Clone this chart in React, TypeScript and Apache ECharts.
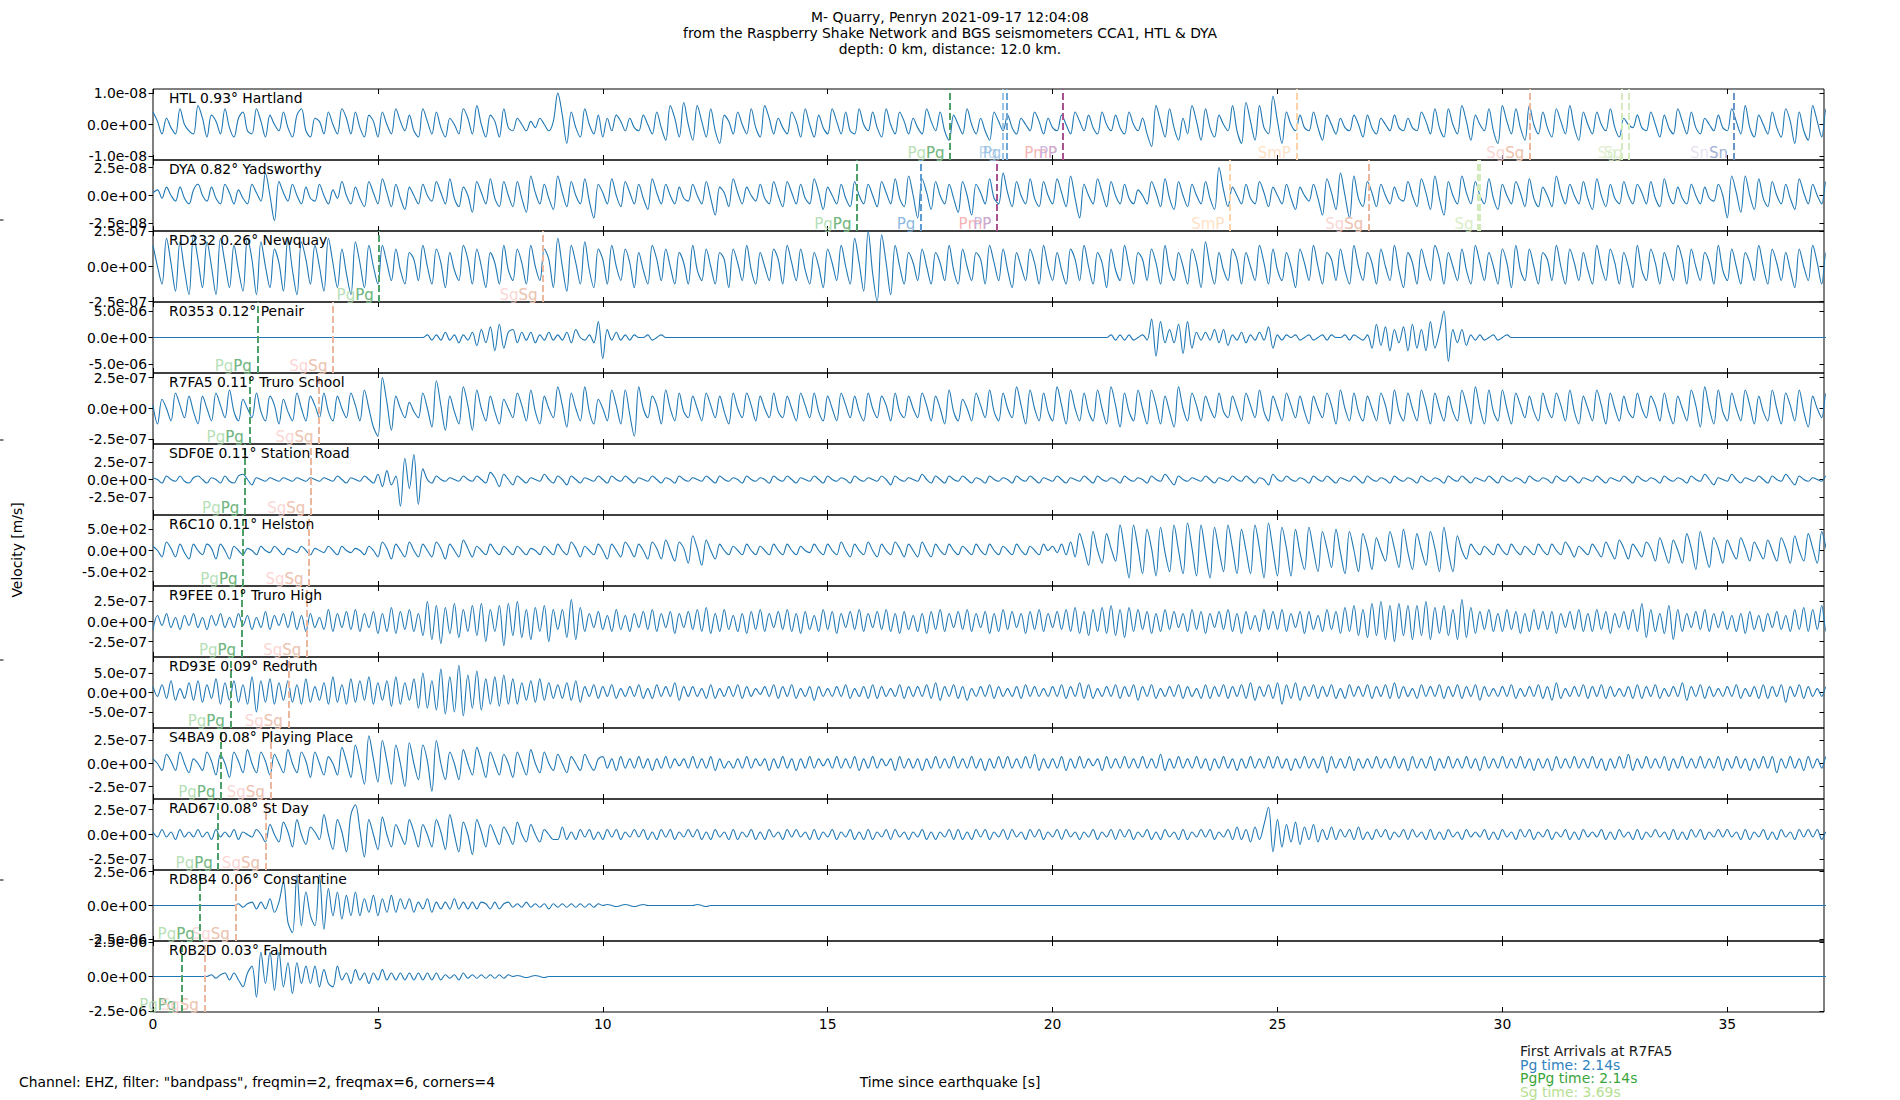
import React, { useEffect, useRef } from 'react';
import * as echarts from 'echarts';

const FONT = '"DejaVu Sans", Verdana, sans-serif';
const DT = 0.1;
const X_MAX = 37.15;
const X_TICKS = [0, 5, 10, 15, 20, 25, 30, 35];
const Y_TICKS = [-10, 0, 10];

const TITLE_LINES = [
  'M- Quarry, Penryn 2021-09-17 12:04:08',
  'from the Raspberry Shake Network and BGS seismometers CCA1, HTL & DYA',
  'depth: 0 km, distance: 12.0 km.',
];

const STATIONS = [
  'HTL 0.93° Hartland', 'DYA 0.82° Yadsworthy', 'RD232 0.26° Newquay', 'R0353 0.12° Penair',
  'R7FA5 0.11° Truro School', 'SDF0E 0.11° Station Road', 'R6C10 0.11° Helston', 'R9FEE 0.1° Truro High',
  'RD93E 0.09° Redruth', 'S4BA9 0.08° Playing Place', 'RAD67 0.08° St Day', 'RD8B4 0.06° Constantine',
  'R0B2D 0.03° Falmouth',
];
const Y_TOP_LABELS = ['1.0e-08', '2.5e-08', '2.5e-07', '5.0e-06', '2.5e-07', '2.5e-07', '5.0e+02', '2.5e-07', '5.0e-07', '2.5e-07', '2.5e-07', '2.5e-06', '2.5e-06'];
const Y_BOTTOM_LABELS = ['-1.0e-08', '-2.5e-08', '-2.5e-07', '-5.0e-06', '-2.5e-07', '-2.5e-07', '-5.0e+02', '-2.5e-07', '-5.0e-07', '-2.5e-07', '-2.5e-07', '-2.5e-06', '-2.5e-06'];
// axis half-range, in units where the labelled tick = 10
const Y_RANGE = [11.3, 12.7, 10.1, 13.4, 11.5, 20, 16.8, 17.7, 18.2, 15.4, 14.3, 10.5, 10.3];

// traces sampled every 0.1 s, in units of (labelled tick / 10)
const TR_HTL = [
4,1,-3,2,-1,-3,5,0,-2,-3, 6,2,-4,3,1,-3,5,-1,-4,2, 4,-2,-3,5,1,-4,3,0,-2,4, -1,-4,3,5,-2,-4,2,1,-3,4,
0,-3,5,2,-3,4,-1,-4,3,1, -4,4,0,-3,5,1,-2,3,-2,-4, 5,1,-3,4,-1,-4,2,0,-3,5, 2,-3,6,0,-4,3,1,-4,5,-1,
-2,2,0,-2,1,-1,2,0,-2,1, 10,3,-6,4,-1,-4,5,0,-3,3, -4,2,-2,3,1,-2,2,-1,-2,3, 0,-3,4,-1,-5,6,2,-4,7,0,
-5,6,1,-4,5,-2,-6,3,1,-3, 4,0,-3,5,-1,-4,6,2,-3,2, -1,-3,4,1,-4,5,0,-4,3,-1, -3,5,1,-3,4,-2,-3,5,0,-2,
4,-1,-4,5,0,-3,4,1,-3,2, -1,-3,5,1,-2,4,-2,-5,3,0, -3,5,0,-3,2,-2,-5,4,1,-2, 3,-1,-3,2,0,-2,4,1,-3,2,
-1,-2,3,0,-3,4,1,-2,3,-1, -3,4,0,-2,3,-1,-3,4,0,-2, 2,-3,-7,6,1,-4,5,-1,-5,2, -3,6,1,-5,5,-1,-4,3,0,-2,
6,-2,-6,7,1,-5,6,-1,-3,9, 1,-6,4,0,-2,3,-1,-2,4,-1, -5,3,0,-3,2,-1,-2,3,0,-4, 3,-1,-3,2,0,-2,3,-1,-2,2,
-1,-2,4,1,-3,5,-1,-4,5,0, -3,6,1,-5,3,0,-2,5,-2,-6, 6,1,-3,5,-1,-5,6,0,-3,4, -1,-4,5,1,-3,6,-1,-5,4,0,
-3,4,0,-2,5,-1,-4,2,0,-1, 3,-1,-2,4,0,-4,3,-1,-3,5, 1,-3,4,-1,-3,2,0,-2,3,-1, -2,5,1,-3,6,-1,-4,3,0,-3,
4,-1,-4,5,1,-6,4,-2,-5,6, 1,-4,5,0,-3,4,
];
const TR_DYA = [
1,2,-1,3,0,-2,3,-1,-3,2, 4,0,-2,3,-1,-3,4,1,-3,2, -1,-3,4,1,-2,8,0,-9,5,1, -2,4,0,-3,3,-1,-2,4,0,-3,
2,-1,5,0,-3,3,-1,-4,5,1, -3,6,1,-4,4,-1,-5,3,0,-3, 4,0,-2,5,1,-3,6,-1,-4,3, 0,-6,5,1,-3,6,-1,-4,5,0,
-4,5,-1,-6,7,1,-3,4,-1,-5, 7,1,-4,5,0,-3,6,-2,-8,4, 1,-3,6,0,-4,5,1,-3,4,-1, -5,6,1,-3,4,0,-3,3,-1,-2,
4,0,-3,5,-1,-7,3,1,-4,6, 1,-3,3,0,-2,4,-1,-3,5,0, -4,5,1,-3,4,-1,-3,6,1,-5, 3,0,-3,4,-1,-4,5,0,-3,4,
0,-4,5,1,-3,6,-1,-4,7,0, -8,6,1,-5,5,0,-3,4,-1,-6, 5,0,-7,4,1,-3,6,-1,-3,8, 1,-4,5,0,-3,6,-1,-4,5,0,
-3,6,1,-4,7,-1,-8,4,0,-3, 6,1,-4,5,0,-3,4,-1,-3,2, 0,-3,5,1,-4,6,-1,-5,5,0, -4,4,0,-3,5,-1,-5,10,2,-4,
3,0,-3,4,-1,-3,5,1,-4,3, 0,-3,4,-1,-5,3,0,-2,4,-1, -7,6,1,-5,8,0,-8,7,-1,-4, 5,1,-4,4,0,-3,3,-1,-2,5,
0,-4,6,1,-5,7,-1,-7,5,0, -3,7,1,-3,5,0,-3,6,-1,-5, 4,0,-3,5,1,-4,6,-1,-4,3, 0,-4,7,1,-3,4,0,-3,5,-1,
-5,6,0,-4,4,-1,-3,5,0,-3, 4,1,-3,5,-1,-4,6,0,-3,3, -1,-3,4,0,-3,3,-1,-2,4,0, -8,7,1,-6,7,0,-5,6,-1,-4,
5,0,-3,4,-1,-5,6,1,-3,4, 0,-3,5,1,-4,3,
];
const TR_RD232 = [
6,0,-5,8,1,-7,7,-1,-8,9, 2,-6,7,0,-8,8,1,-6,6,-1, -7,8,2,-8,7,0,-6,5,1,-7, 8,-1,-8,7,2,-5,6,0,-7,8, 1,-6,5,-2,-8,7,1,-6,6,0,
-5,6,1,-4,5,-1,-5,4,2,-4, 6,0,-5,5,1,-6,4,-1,-4,6, 2,-5,5,0,-6,4,1,-5,6,-1, -4,5,1,-5,6,0,-4,5,2,-6,
8,0,-7,6,1,-5,7,-1,-6,5, 2,-5,6,0,-4,5,1,-6,4,-1, -5,6,2,-4,5,0,-5,4,1,-5, 6,-1,-4,5,0,-5,4,2,-6,5,
1,-4,6,-1,-5,4,0,-4,5,2, -5,6,1,-4,5,-1,-5,4,0,-6, 5,1,-4,6,0,-5,8,1,-7,10, -2,-10,9,1,-8,6,0,-5,4,1,
-4,5,0,-5,4,1,-4,6,-1,-5, 5,0,-4,4,2,-5,6,1,-4,5, -1,-6,4,0,-4,5,1,-5,6,0, -4,4,-1,-5,5,2,-4,6,0,-5,
4,1,-6,5,-1,-4,6,0,-5,4, 2,-4,5,1,-5,6,-1,-4,4,0, -5,5,1,-6,7,0,-5,4,-1,-4, 5,2,-5,4,0,-4,6,1,-5,5,
-1,-4,4,0,-6,5,1,-4,6,0, -5,4,2,-4,5,-1,-5,6,0,-4, 4,1,-5,5,0,-4,6,-1,-6,4, 1,-5,5,0,-4,6,2,-5,4,0,
-4,5,-1,-5,6,1,-4,4,0,-5, 5,1,-6,6,-1,-4,5,0,-5,4, 2,-4,6,0,-5,5,1,-4,4,-1, -5,6,0,-4,5,1,-5,4,0,-6,
6,-1,-4,5,1,-5,4,0,-4,6, 2,-5,5,0,-4,4,1,-5,6,-1, -4,5,0,-5,4,1,
-4,6,0,-5,5,1,-4,4,-1,-6, 5,0,-4,6,1,-5,4,0,-5,5, 2,-4,6,-1,-5,4,0,-4,5,1, -6,5,0,-4,4,1,-5,6,0,-4,
];
const TR_R0353 = [
0,0,0,0,0,0,0,0,0,0, 0,0,0,0,0,0,0,0,0,0, 0,0,0,0,0,0,0,0,0,0, 0,0,0,0,0,0,0,0,0,0, 0,0,0,0,0,0,0,0,0,0,
0,0,0,0,0,0,0,0,0,0, 0,1,-1,1,-1,2,-1,1,-2,1, -1,2,-3,3,-2,4,-5,5,-4,2, 3,-2,2,-1,2,-2,1,-1,2,-1,
1,-1,2,-2,3,0,-1,1,-2,6, -8,3,-1,2,-1,1,-1,1,0,0, 1,-1,0,1,0,0,0,0,0,0,
0,0,0,0,0,0,0,0,0,0, 0,0,0,0,0,0,0,0,0,0, 0,0,0,0,0,0,0,0,0,0, 0,0,0,0,0,0,0,0,0,0, 0,0,0,0,0,0,0,0,0,0,
0,0,0,0,0,0,0,0,0,0, 0,0,0,0,0,0,0,0,0,0, 0,0,0,0,0,0,0,0,0,0, 0,0,0,0,0,0,0,0,0,0,
0,0,0,1,-1,1,-1,1,-1,0, 1,-1,7,-7,6,-2,3,-2,5,-6, 6,-4,2,-1,2,-1,3,-2,3,-3, 1,-1,2,-2,1,-1,2,-1,4,-4,
1,-1,1,0,1,-1,0,1,-1,0, 1,-1,1,0,0,1,-1,1,0,-1, 1,-4,5,-3,4,-5,3,-2,4,-5, 5,-4,3,-5,6,-4,2,10,-9,3,
-2,3,-3,1,-1,1,-1,0,1,-1, 0,1,0,0,0,0,0,0,0,0,
0,0,0,0,0,0,0,0,0,0, 0,0,0,0,0,0,0,0,0,0, 0,0,0,0,0,0,0,0,0,0, 0,0,0,0,0,0,0,0,0,0, 0,0,0,0,0,0,0,0,0,0,
0,0,0,0,0,0,0,0,0,0, 0,0,0,0,0,0,0,0,0,0,
];
const TR_R7FA5 = [
1,-5,3,0,-4,5,1,-3,4,-1, -5,4,0,-4,5,1,-3,6,-1,-4, 3,0,-3,5,-1,-4,4,1,-5,3, -1,-4,5,0,-4,4,1,-3,5,-1,
-4,4,0,-3,5,1,-4,6,0,-6, -9,10,2,-7,4,0,-3,2,-1,-3, 5,0,-6,9,1,-7,4,-1,-5,7, 1,-7,6,0,-4,4,-1,-5,3,0,
-3,5,1,-4,6,-1,-5,4,0,-3, 7,1,-6,5,0,-4,7,-1,-5,3, 0,-4,6,1,-5,6,-2,-9,7,0, -3,4,1,-5,6,0,-4,5,-1,-3,
4,0,-4,5,1,-3,4,-1,-5,5, 0,-3,5,1,-4,4,0,-3,5,-1, -3,4,0,-4,5,1,-3,5,-1,-4, 4,0,-4,5,1,-3,4,-1,-4,5,
0,-3,4,1,-4,5,-1,-3,4,0, -3,5,1,-4,4,0,-5,6,-1,-4, 3,0,-4,5,1,-3,6,-1,-4,5, 0,-3,7,1,-5,6,0,-4,5,-1,
-4,7,1,-5,6,0,-4,5,-1,-4, 6,0,-5,7,1,-6,5,-1,-4,6, 0,-5,6,1,-5,4,-1,-6,7,0, -4,5,1,-4,4,0,-3,5,-1,-3,
4,0,-4,5,1,-3,6,-1,-4,4, 0,-4,5,1,-3,4,-1,-5,4,0, -3,5,1,-5,6,0,-4,5,-1,-4, 4,0,-4,5,1,-5,6,-1,-4,5,
0,-4,6,1,-5,5,0,-4,4,-1, -4,6,1,-5,7,0,-5,6,-1,-4, 6,0,-5,5,1,-3,4,-1,-4,5, 0,-3,5,1,-4,6,-1,-5,4,0,
-4,6,1,-5,5,0,-4,4,-1,-3, 5,0,-3,4,1,-4,5,-1,-5,4, 0,-4,6,1,-6,7,0,-5,6,-1, -4,5,0,-4,6,1,-5,4,-1,-4,
6,0,-5,5,1,-4,6,-1,-6,4, 0,-3,5,1,-4,3,
];
const TR_SDF0E = [
1,0,-2,2,0,-1,2,-1,-2,1, 2,0,-2,1,0,-2,2,-1,-2,2, 3,0,-3,1,0,-1,1,0,-1,1, 0,-1,1,0,-1,1,0,-1,1,0,
-1,2,0,-2,1,0,-1,2,0,-2, 3,-4,5,-3,2,-15,12,-5,14,-14, 6,0,-2,2,0,-1,1,0,-1,2, 0,-1,2,0,-2,4,1,-4,3,0,
-3,2,0,-2,1,0,-1,3,0,-2, 2,0,-3,2,0,-2,1,0,-1,2, 0,-2,2,0,-1,2,0,-2,1,0, -1,2,0,-2,1,0,-2,2,0,-1,
1,0,-1,2,0,-2,2,0,-1,1, 0,-2,2,0,-1,1,0,-2,2,0, -1,2,0,-2,1,0,-1,2,0,-2, 2,0,-1,1,0,-2,2,0,-1,1,
0,-1,2,0,-3,2,0,-1,1,0, -1,3,0,-2,2,0,-2,2,0,-1, 2,0,-2,1,0,-2,2,0,-1,1, 0,-2,2,0,-1,2,0,-2,1,0,
-1,2,0,-2,1,0,-1,2,0,-2, 2,0,-1,1,0,-2,2,0,-1,1, 0,-2,2,0,-1,3,0,-3,2,0, -1,1,0,-1,2,0,-2,1,0,-1,
2,0,-1,2,0,-2,1,0,-3,3, 0,-1,2,0,-1,1,0,-2,2,0, -1,2,0,-2,1,0,-1,2,0,-2, 2,0,-1,1,0,-2,2,0,-1,1,
0,-2,2,0,-1,1,0,-2,2,0, -1,2,0,-2,1,0,-1,2,0,-2, 2,0,-1,1,0,-2,2,0,-1,1, 0,-2,2,0,-1,2,0,-2,1,0,
-1,2,0,-2,1,0,-1,2,0,-2, 2,0,-1,1,0,-2,2,0,-1,1, 0,-2,2,0,-1,3,0,-3,1,0, -1,3,0,-2,1,0,-1,2,0,-2,
2,0,-1,3,0,-3,2,0,-1,1, 0,-1,2,0,-1,1,
];
const TR_R6C10 = [
2,0,-3,4,1,-3,3,-1,-4,3, 0,-2,3,1,-4,3,0,-4,2,0, -2,1,0,-2,2,0,-1,2,0,-2, 1,0,-1,2,0,-2,1,0,-1,2,
0,-2,2,0,-1,1,0,-2,2,0, -3,4,1,-4,3,0,-3,4,0,-3, 3,0,-3,4,1,-4,3,0,-3,5, 1,-3,2,0,-2,3,0,-2,2,0,
-2,2,0,-2,1,0,-2,2,0,-2, 3,0,-2,4,1,-3,2,0,-2,3, 0,-4,3,0,-3,4,1,-3,3,0, -4,4,1,-4,5,0,-5,4,1,-6,
7,1,-7,5,0,-4,3,0,-2,2, 0,-2,3,0,-2,2,0,-2,3,0, -2,3,0,-2,2,0,-1,3,0,-2, 3,0,-2,4,0,-3,3,0,-2,4,
0,-3,3,0,-2,4,1,-3,3,0, -3,4,0,-3,3,0,-2,3,0,-2, 2,0,-2,3,0,-2,3,0,-2,2, 0,-2,3,0,-2,2,0,-2,3,0,
2,-1,3,-2,4,-3,8,1,-7,9, 0,-6,8,1,-5,12,0,-13,12,1, -11,10,1,-12,11,-1,-10,12,0,-11, 13,1,-12,12,-1,-13,11,0,-10,12,
1,-11,10,0,-11,12,1,-13,13,0, -12,11,1,-12,10,-1,-9,11,0,-10, 9,1,-8,10,-1,-11,9,0,-10,8, 1,-9,6,0,-5,9,1,-8,10,-1,
-9,8,0,-7,9,1,-10,11,-1,-10, 7,0,-4,3,0,-2,2,0,-2,3, 0,-2,3,0,-2,2,0,-2,3,0, -2,3,0,-2,4,1,-3,2,0,-2,
3,0,-3,4,0,-4,5,1,-4,3, 0,-3,4,1,-5,6,0,-6,5,0, -6,8,1,-9,9,0,-8,6,1,-6, 5,0,-4,6,1,-5,4,0,-4,5,
0,-5,6,1,-6,7,0,-5,8,1, -6,9,1,-5,7,0,
];
const TR_R9FEE = [
-4,3,-2,4,-3,2,-4,3,-2,4, -3,2,-4,3,-2,4,-3,2,-3,4, -2,3,-4,2,-3,5,-4,3,-2,4, -3,5,-4,3,-5,4,-3,2,-4,6,
-5,4,-3,5,-4,6,-5,4,-3,5, -6,4,-5,7,-6,5,-4,6,-5,4, -7,10,-9,8,-11,7,-6,9,-8,6, -5,8,-7,9,-10,6,-5,8,-12,9,
-7,10,-8,6,-9,7,-5,8,-10,6, -4,6,-8,11,-9,7,-5,4,-3,5, -4,3,-5,6,-4,3,-5,4,-3,5, -4,6,-5,4,-3,5,-6,4,-3,5,
-4,6,-5,7,-6,4,-5,6,-4,3, -5,4,-6,5,-4,6,-5,4,-3,5, -4,6,-5,4,-6,5,-4,3,-5,6, -4,5,-6,4,-3,5,-4,6,-5,4,
-3,5,-4,6,-5,4,-6,5,-4,3, -5,4,-6,5,-4,6,-5,4,-3,5, -4,6,-5,4,-3,5,-6,4,-5,6, -4,5,-3,4,-6,5,-4,6,-5,4,
-3,5,-4,6,-5,7,-6,5,-7,6, -5,7,-6,8,-7,6,-8,7,-5,6, -4,5,-6,4,-5,6,-4,5,-3,4, -5,6,-4,5,-6,4,-3,5,-4,6,
-5,4,-6,5,-4,3,-5,6,-4,5, -4,6,-5,4,-3,5,-6,5,-4,3, -5,6,-4,5,-6,7,-5,8,-7,6, -8,9,-7,10,-9,8,-10,9,-7,8,
-9,8,-7,10,-9,7,-6,8,-7,6, -9,11,-8,7,-6,5,-4,6,-5,4, -5,6,-4,5,-6,4,-5,6,-4,5, -4,5,-6,4,-3,5,-4,6,-5,4,
-5,6,-4,5,-6,4,-3,5,-4,6, -5,9,-8,6,-5,4,-6,8,-9,6, -5,4,-3,5,-4,6,-5,4,-3,5, -4,3,-5,4,-6,5,-4,3,-5,4,
-3,5,-4,3,-5,6,-4,7,-5,6, -4,8,-5,4,-3,5,
];
const TR_RD93E = [
3,-2,4,-3,6,-4,2,-3,5,-4, 6,-5,4,-3,7,-6,5,-4,6,-5, 4,-6,8,-10,6,-5,7,-6,5,-4, 6,-5,4,-6,7,-5,3,-4,5,-6,
8,-5,4,-6,7,-5,6,-4,8,-6, 5,-4,6,-7,8,-6,5,-4,7,-8, 10,-8,6,-9,12,-11,8,-10,14,-12, 9,-8,11,-9,7,-6,8,-7,9,-6,
7,-6,5,-4,6,-5,7,-4,5,-3, 4,-3,5,-4,6,-5,3,-2,4,-3, 3,-2,4,-3,2,-2,3,-2,4,-3, 2,-3,4,-2,3,-2,5,-4,3,-2,
3,-2,2,-3,4,-3,2,-2,3,-2, 4,-3,3,-2,2,-1,3,-2,4,-3, 3,-2,4,-3,2,-2,3,-4,3,-2, 2,-2,3,-2,4,-3,2,-2,3,-3,
4,-3,3,-2,2,-2,4,-3,3,-2, 3,-2,4,-3,5,-4,3,-2,4,-3, 3,-4,2,-2,3,-2,4,-3,3,-2, 2,-2,3,-3,4,-2,3,-2,2,-2,
3,-2,4,-3,3,-2,5,-3,4,-3, 2,-2,3,-2,4,-3,3,-2,4,-4, 3,-2,4,-3,2,-2,3,-2,4,-3, 3,-2,2,-3,4,-3,3,-2,4,-3,
3,-2,4,-3,5,-4,3,-2,4,-3, 5,-6,4,-3,5,-4,3,-2,4,-3, 3,-2,4,-3,2,-3,4,-2,3,-2, 4,-3,3,-2,4,-3,5,-3,3,-2,
2,-3,4,-2,3,-2,4,-3,3,-2, 4,-3,3,-2,4,-4,3,-2,2,-2, 3,-2,4,-3,2,-2,3,-2,4,-3, 3,-4,5,-3,2,-2,3,-2,4,-3,
3,-2,4,-3,3,-2,2,-2,3,-3, 4,-3,3,-2,4,-3,2,-2,3,-2, 5,-4,3,-2,4,-3,3,-2,2,-2, 3,-2,4,-3,2,-2,3,-3,4,-3,
3,-2,4,-5,3,-2,4,-3,3,-2, 2,-2,3,-2,4,-3,
];
const TR_S4BA9 = [
2,0,-3,4,1,-3,5,0,-4,2, 0,-3,5,1,-5,4,0,-6,5,1, -4,6,0,-4,5,1,-5,4,0,-4, 6,0,-4,5,1,-6,5,0,-5,3,
0,-5,7,1,-6,8,0,-9,12,2, -8,10,1,-9,8,0,-10,9,0,-7, 8,1,-12,10,0,-7,5,0,-7,6, 0,-5,7,1,-6,5,0,-5,4,0,
-6,5,0,-5,6,0,-4,5,0,-3, 4,0,-4,3,0,-3,4,0,-3,2, 3,-2,2,-3,3,-2,2,-2,3,-2, 2,-3,2,-2,3,-2,2,-1,2,-2,
3,-2,2,-2,3,-3,2,-2,1,-2, 2,-2,3,-2,2,-1,2,-3,2,-2, 3,-2,2,-3,2,-2,3,-2,2,-1, 2,-2,3,-2,2,-2,3,-3,2,-2,
3,-2,2,-1,2,-3,3,-2,2,-2, 2,-3,2,-2,3,-2,2,-2,3,-2, 2,-2,3,-2,2,-3,2,-2,3,-2, 3,-2,2,-2,3,-2,4,-3,2,-2,
2,-2,3,-3,2,-2,3,-2,2,-1, 2,-3,3,-2,2,-2,3,-2,2,-2, 3,-2,2,-2,4,-3,2,-2,3,-2, 2,-2,3,-2,2,-3,2,-2,3,-2,
2,-3,2,-2,3,-2,2,-2,3,-2, 3,-2,2,-3,2,-2,3,-2,2,-2, 3,-4,3,-2,2,-2,3,-3,2,-2, 2,-2,3,-2,2,-2,3,-2,2,-3,
3,-2,2,-2,3,-3,2,-2,3,-2, 2,-2,3,-2,2,-3,3,-2,2,-2, 3,-2,2,-2,3,-2,2,-3,2,-2, 2,-3,3,-2,2,-2,3,-2,2,-2,
3,-2,2,-3,2,-2,3,-2,4,-3, 2,-2,3,-2,2,-2,3,-3,2,-2, 3,-2,2,-2,3,-2,2,-2,3,-3, 2,-2,3,-2,2,-3,2,-2,3,-2,
3,-4,2,-2,3,-2,2,-3,3,-2, 2,-2,3,-2,2,-3,
];
const TR_RAD67 = [
1,-1,2,-1,1,-2,2,-1,1,-1, 2,-1,1,-2,2,-1,1,-1,2,-2, 1,0,-1,2,0,-3,4,0,-3,5, 1,-5,6,0,-4,3,1,-2,8,0,
-6,6,1,-7,8,12,2,-9,6,0, -6,7,0,-5,4,0,-4,6,1,-5, 4,0,-5,6,1,-6,8,0,-7,5, 0,-8,6,1,-5,4,0,-4,3,0,
-4,5,0,-3,4,0,-3,2,0,-2, -2,3,-2,1,-2,2,-1,2,-2,1, -2,2,-1,2,-2,1,-1,2,-1,2, -2,1,-2,2,-1,2,-2,1,-1,2,
-1,2,-2,1,-2,2,-1,1,-2,2, -2,1,-1,2,-2,1,-2,2,-1,1, -2,2,-1,2,-1,1,-2,2,-2,1, -1,2,-2,1,-1,2,-2,1,-2,2,
-2,1,-1,2,-2,2,-1,1,-2,1, -1,2,-2,1,-2,1,-1,2,-2,2, -2,1,-2,2,-1,2,-2,1,-1,2, -2,2,-1,1,-2,2,-1,2,-2,1,
-1,2,-2,2,-1,1,-2,1,-1,2, -2,1,-1,2,-2,2,-1,2,-2,1, -1,2,-2,1,-2,2,-1,1,-2,2, -2,1,-1,2,-1,2,-2,1,-1,2,
-2,3,-2,2,-3,3,-2,4,11,-7, 6,-5,4,-3,5,-4,3,-2,4,-3, 2,-2,3,-2,2,-1,2,-2,3,-2, 1,-2,2,-1,2,-2,1,-1,2,-2,
2,-1,1,-2,2,-2,1,-2,2,-1, 1,-2,2,-1,1,-1,2,-2,1,-2, 2,-1,1,-2,2,-1,2,-2,1,-1, 2,-2,1,-1,2,-2,1,-2,2,-1,
1,-1,2,-2,1,-2,2,-1,1,-2, 2,-2,1,-1,2,-1,1,-2,2,-2, 1,-2,2,-1,2,-2,1,-1,2,-1, 2,-1,1,-2,2,-2,1,-1,2,-2,
1,-2,2,-1,1,-2,2,-1,2,-1, 2,-2,1,-1,2,-1,
];
const TR_RD8B4 = [
0,0,0,0,0,0,0,0,0,0, 0,0,0,0,0,0,0,0,0,0.5, -0.5,0.5,1,-1,1,-1,2,-2,1,7, -5,-8,9,-6,4,-3,-6,9,-7,5,
-3,4,-4,3,-3,4,-3,2,-2,3, -3,2,-2,3,-2,2,-1,2,-2,1, -1,2,-2,1,-1,1,-1,2,-1,1, -1,1,-1,1,0.5,-1,1,-1,0.5,1,
-0.5,0.5,-0.5,1,-0.5,0.5,-0.5,0.5,-1,0.5, -0.5,0.5,-0.5,0.5,-0.5,0.5,-0.5,0.5,-0.5,0.5, 0,0.3,0,-0.3,0,0.3,0,-0.3,0,0.3,
0,0,0,0,0,0,0,0,0,0, 0,0.3,0,-0.3,0,0,0,0,0,0, 0,0,0,0,0,0,0,0,0,0, 0,0,0,0,0,0,0,0,0,0, 0,0,0,0,0,0,0,0,0,0,
0,0,0,0,0,0,0,0,0,0, 0,0,0,0,0,0,0,0,0,0, 0,0,0,0,0,0,0,0,0,0, 0,0,0,0,0,0,0,0,0,0, 0,0,0,0,0,0,0,0,0,0,
0,0,0,0,0,0,0,0,0,0, 0,0,0,0,0,0,0,0,0,0, 0,0,0,0,0,0,0,0,0,0, 0,0,0,0,0,0,0,0,0,0, 0,0,0,0,0,0,0,0,0,0,
0,0,0,0,0,0,0,0,0,0, 0,0,0,0,0,0,0,0,0,0, 0,0,0,0,0,0,0,0,0,0, 0,0,0,0,0,0,0,0,0,0, 0,0,0,0,0,0,0,0,0,0,
0,0,0,0,0,0,0,0,0,0, 0,0,0,0,0,0,0,0,0,0, 0,0,0,0,0,0,0,0,0,0, 0,0,0,0,0,0,0,0,0,0,
0,0,0,0,0,0,0,0,0,0, 0,0,0,0,0,0,0,0,0,0, 0,0,0,0,0,0,0,0,0,0, 0,0,0,0,0,0,0,0,0,0,
];
const TR_R0B2D = [
0,0,0,0,0,0,0,0,0,0, 0,0,0,0.5,-0.5,0.5,1,-1,1,-1, -3,1,3,-6,7,-2,7,-4,7,-3, 4,-5,4,-2,3,-2,3,-3,2,-2,
-3,3,-1,1,-2,2,-1,1,-2,1, -1,2,-1,1,-1,1,-1,1,-1,1, -1,1,-1,1,-1,0.5,-0.5,0.5,-1,1, -0.5,0.5,-0.5,0.5,-0.5,0.5,-0.5,0.5,-0.5,0.5,
0,0.3,0,-0.3,0,0.3,0,-0.3,0,0, 0,0,0,0,0,0,0,0,0,0, 0,0,0,0,0,0,0,0,0,0, 0,0,0,0,0,0,0,0,0,0,
0,0,0,0,0,0,0,0,0,0, 0,0,0,0,0,0,0,0,0,0, 0,0,0,0,0,0,0,0,0,0, 0,0,0,0,0,0,0,0,0,0, 0,0,0,0,0,0,0,0,0,0,
0,0,0,0,0,0,0,0,0,0, 0,0,0,0,0,0,0,0,0,0, 0,0,0,0,0,0,0,0,0,0, 0,0,0,0,0,0,0,0,0,0, 0,0,0,0,0,0,0,0,0,0,
0,0,0,0,0,0,0,0,0,0, 0,0,0,0,0,0,0,0,0,0, 0,0,0,0,0,0,0,0,0,0, 0,0,0,0,0,0,0,0,0,0, 0,0,0,0,0,0,0,0,0,0,
0,0,0,0,0,0,0,0,0,0, 0,0,0,0,0,0,0,0,0,0, 0,0,0,0,0,0,0,0,0,0, 0,0,0,0,0,0,0,0,0,0, 0,0,0,0,0,0,0,0,0,0,
0,0,0,0,0,0,0,0,0,0, 0,0,0,0,0,0,0,0,0,0, 0,0,0,0,0,0,0,0,0,0, 0,0,0,0,0,0,0,0,0,0,
0,0,0,0,0,0,0,0,0,0, 0,0,0,0,0,0,0,0,0,0, 0,0,0,0,0,0,0,0,0,0,
];
const TRACES = [TR_HTL, TR_DYA, TR_RD232, TR_R0353, TR_R7FA5, TR_SDF0E, TR_R6C10, TR_R9FEE, TR_RD93E, TR_S4BA9, TR_RAD67, TR_RD8B4, TR_R0B2D];

// phase arrival times (s) and line colours
const PG_C = '#4f9f69';
const SG_C = '#ebb79e';
const PHASE_LINES = [
  [[17.72, PG_C], [18.89, '#9cc5e6'], [18.98, '#6ea6d6'], [20.22, '#a9528f'], [25.42, '#fdd3a8'], [30.61, SG_C], [32.66, '#d5ebbf'], [32.8, '#d5ebbf'], [35.14, '#6993c9']],
  [[15.65, PG_C], [17.07, '#5b9bd2'], [18.76, '#a9528f'], [23.94, '#fdd3a8'], [27.03, SG_C], [29.48, '#d3ebbb', 4]],
  [[5.03, PG_C], [8.67, SG_C]],
  [[2.32, PG_C], [4.0, SG_C]],
  [[2.14, PG_C], [3.69, SG_C]],
  [[2.04, PG_C], [3.51, SG_C]],
  [[2.0, PG_C], [3.47, SG_C]],
  [[1.97, PG_C], [3.42, SG_C]],
  [[1.72, PG_C], [3.01, SG_C]],
  [[1.51, PG_C], [2.61, SG_C]],
  [[1.45, PG_C], [2.5, SG_C]],
  [[1.05, PG_C], [1.83, SG_C]],
  [[0.64, PG_C], [1.14, SG_C]],
];
const PGPG = ['PgPg', '#a3d7a3'];
const PG2 = ['Pg', '#62ab75'];
const SGSG = ['SgSg', '#f9cbc8'];
const SG2 = ['Sg', '#e9c2aa'];
const PHASE_LABELS = [
  [[17.72, ...PGPG], [17.72, ...PG2], [18.89, 'Pg', '#abcde9'], [18.98, 'Pg', '#8db8df'], [20.22, 'PmP', '#f4a0a0'], [20.22, 'PP', '#c0a8d9'],
   [25.42, 'SmP', '#fed9b6'], [30.61, ...SGSG], [30.61, ...SG2], [32.66, 'Sg', '#daeec9'], [32.8, 'Sg', '#d2eabf'], [35.14, 'SnSn', '#e3dbef'], [35.14, 'Sn', '#90a8cf']],
  [[15.65, ...PGPG], [15.65, ...PG2], [17.07, 'Pg', '#6aa6d9'], [18.76, 'PmP', '#f4a0a0'], [18.76, 'PP', '#c0a8d9'], [23.94, 'SmP', '#fed9b6'],
   [27.03, ...SGSG], [27.03, ...SG2], [29.48, 'Sg', '#cfe8b8']],
  ...PHASE_LINES.slice(2).map((p) => [[p[0][0], ...PGPG], [p[0][0], ...PG2], [p[1][0], ...SGSG], [p[1][0], ...SG2]]),
];

const ARRIVALS = [
  ['First Arrivals at R7FA5', '#1a1a1a'],
  ['Pg time: 2.14s', '#2f82c0'],
  ['PgPg time: 2.14s', '#3aa53a'],
  ['Sg time: 3.69s', '#b5df92'],
];

// layout
const LEFT = 153;
const PLOT_W = 1671;
const TOP = 89;
const PANEL_H = 71;

function buildOption() {
  const n = STATIONS.length;
  const grid: any[] = [];
  const xAxis: any[] = [];
  const yAxis: any[] = [];
  const series: any[] = [];
  const graphic: any[] = [];
  const tickStyle = { color: '#000', width: 1 };
  for (let i = 0; i < n; i++) {
    grid.push({ left: LEFT, width: PLOT_W, top: TOP + i * PANEL_H, height: PANEL_H, show: true, borderColor: '#000', borderWidth: 1, backgroundColor: 'transparent' });
    const xBase = {
      gridIndex: i, type: 'value', min: 0, max: X_MAX,
      axisLine: { show: false, onZero: false }, splitLine: { show: false },
    };
    xAxis.push({
      ...xBase, position: 'bottom',
      axisTick: { show: true, inside: true, length: 5, customValues: X_TICKS, lineStyle: tickStyle },
      axisLabel: { show: i === n - 1, customValues: X_TICKS, margin: 5, fontSize: 13.9, color: '#000', fontFamily: FONT },
    });
    xAxis.push({
      ...xBase, position: 'top',
      axisTick: { show: true, inside: true, length: 5, customValues: X_TICKS, lineStyle: tickStyle },
      axisLabel: { show: false },
    });
    const r = Y_RANGE[i];
    const yBase = { gridIndex: i, type: 'value', min: -r, max: r, axisLine: { show: false, onZero: false }, splitLine: { show: false } };
    const top = Y_TOP_LABELS[i];
    const bot = Y_BOTTOM_LABELS[i];
    yAxis.push({
      ...yBase, position: 'left',
      axisTick: { show: true, inside: false, length: 4.5, customValues: Y_TICKS, lineStyle: tickStyle },
      axisLabel: {
        show: true, customValues: Y_TICKS, margin: 6, fontSize: 13.9, color: '#000', fontFamily: FONT,
        formatter: (v: number) => (v > 0 ? top : v < 0 ? bot : '0.0e+00'),
      },
    });
    yAxis.push({
      ...yBase, position: 'right',
      axisTick: { show: true, inside: true, length: 4.5, customValues: Y_TICKS, lineStyle: tickStyle },
      axisLabel: { show: false },
    });
    series.push({
      type: 'line', xAxisIndex: 2 * i, yAxisIndex: 2 * i,
      data: TRACES[i].map((v, k) => [k * DT, v]),
      showSymbol: false, symbol: 'none', smooth: 0.35, silent: true,
      lineStyle: { color: '#1f77b4', width: 1.1 },
      markLine: {
        silent: true, symbol: ['none', 'none'], label: { show: false },
        data: PHASE_LINES[i].map((p: any) => ({ xAxis: p[0], lineStyle: { color: p[1], width: p[2] || 2, type: [7, 3], opacity: 1 } })),
      },
      z: 2,
    });
    series.push({
      type: 'scatter', xAxisIndex: 2 * i, yAxisIndex: 2 * i, clip: false, silent: true,
      symbolSize: 1, itemStyle: { color: 'transparent' },
      label: { show: true, formatter: '{b}', position: [-5, 1], align: 'right', verticalAlign: 'bottom', fontSize: 15, fontFamily: FONT },
      data: PHASE_LABELS[i].map((l: any) => ({ value: [l[0], -r], name: l[1], label: { color: l[2] } })),
      z: 3,
    });
    graphic.push({
      type: 'text', x: 169, y: TOP + i * PANEL_H + 8.5,
      style: { text: STATIONS[i], fill: '#000', fontSize: 13.9, fontFamily: FONT, align: 'left', verticalAlign: 'middle' },
      z: 10,
    });
  }
  TITLE_LINES.forEach((t, k) => {
    graphic.push({ type: 'text', x: 950, y: 17.3 + k * 16, style: { text: t, fill: '#000', fontSize: 13.9, fontFamily: FONT, align: 'center', verticalAlign: 'middle' } });
  });
  graphic.push({ type: 'text', x: 17, y: 550, rotation: Math.PI / 2, style: { text: 'Velocity [m/s]', fill: '#000', fontSize: 13.9, fontFamily: FONT, align: 'center', verticalAlign: 'middle' } });
  graphic.push({ type: 'text', x: 950, y: 1082, style: { text: 'Time since earthquake [s]', fill: '#000', fontSize: 13.9, fontFamily: FONT, align: 'center', verticalAlign: 'middle' } });
  graphic.push({ type: 'text', x: 19, y: 1082, style: { text: 'Channel: EHZ, filter: "bandpass", freqmin=2, freqmax=6, corners=4', fill: '#000', fontSize: 13.9, fontFamily: FONT, align: 'left', verticalAlign: 'middle' } });
  ARRIVALS.forEach((a, k) => {
    graphic.push({ type: 'text', x: 1520, y: 1051 + k * 13.6, style: { text: a[0], fill: a[1], fontSize: 13.9, fontFamily: FONT, align: 'left', verticalAlign: 'middle' } });
  });
  [220, 440, 660, 880].forEach((y) => {
    graphic.push({ type: 'line', shape: { x1: 0, y1: y, x2: 3.5, y2: y }, style: { stroke: '#000', lineWidth: 1 } });
  });
  return { animation: false, backgroundColor: '#ffffff', grid, xAxis, yAxis, series, graphic };
}

export default function App() {
  const ref = useRef<HTMLDivElement>(null);
  useEffect(() => {
    if (!ref.current) return;
    const chart = echarts.init(ref.current, undefined, { renderer: 'svg' });
    chart.setOption(buildOption() as any);
    return () => chart.dispose();
  }, []);
  return <div ref={ref} style={{ position: 'absolute', left: 0, top: 0, width: 1900, height: 1100, background: '#fff' }} />;
}
